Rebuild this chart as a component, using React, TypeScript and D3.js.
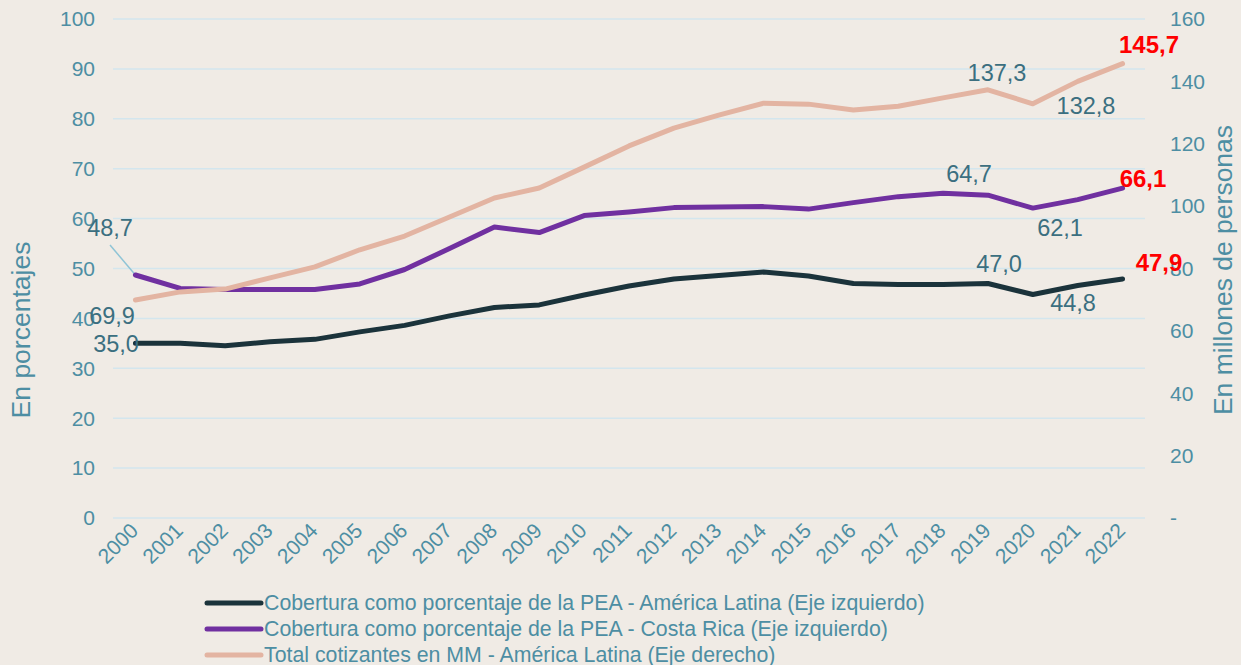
import React from "react";
import * as d3 from "d3";

const years = d3.range(2000, 2023).map(String);
const latam = [35.0, 35.0, 34.5, 35.3, 35.8, 37.3, 38.6, 40.5, 42.2, 42.7, 44.7, 46.5, 47.9, 48.6, 49.3, 48.5, 47.0, 46.8, 46.8, 47.0, 44.8, 46.6, 47.9];
const costaRica = [48.7, 46.0, 45.8, 45.8, 45.8, 46.9, 49.8, 54.0, 58.3, 57.2, 60.6, 61.3, 62.2, 62.3, 62.4, 61.9, 63.2, 64.4, 65.1, 64.7, 62.1, 63.8, 66.1];
const cotizantes = [69.9, 72.5, 73.4, 77.0, 80.5, 86.0, 90.4, 96.5, 102.6, 105.8, 112.5, 119.3, 125.0, 129.2, 133.0, 132.7, 130.8, 132.0, 134.7, 137.3, 132.8, 140.0, 145.7];
const leftTicks = [0, 10, 20, 30, 40, 50, 60, 70, 80, 90, 100];
const rightTicks = [0, 20, 40, 60, 80, 100, 120, 140, 160];
const legendLabels = [
  "Cobertura como porcentaje de la PEA - América Latina (Eje izquierdo)",
  "Cobertura como porcentaje de la PEA - Costa Rica (Eje izquierdo)",
  "Total cotizantes en MM - América Latina (Eje derecho)",
];
const colors = ["#1b333b", "#7030a0", "#e3b4a2"];

const W = 1241;
const H = 665;
const tickColor = "#4d8ea3";
const labelColor = "#3b6f80";
const font = "'Liberation Sans', Arial, sans-serif";

export default function App() {
  const x = d3.scaleBand().domain(years).range([113, 1145]);
  const cx = (i: number) => (x(years[i]) as number) + x.bandwidth() / 2;
  const yL = d3.scaleLinear().domain([0, 100]).range([518, 19]);
  const yR = d3.scaleLinear().domain([0, 160]).range([518, 19]);

  const lineL = d3.line<number>().x((_, i) => cx(i)).y((d) => yL(d));
  const lineR = d3.line<number>().x((_, i) => cx(i)).y((d) => yR(d));

  const series = [
    { d: lineL(latam), c: colors[0] },
    { d: lineL(costaRica), c: colors[1] },
    { d: lineR(cotizantes), c: colors[2] },
  ];

  // annotated values
  const labels = [
    { t: "48,7", x: 110, y: yL(costaRica[0]) - 47 },
    { t: "69,9", x: 112, y: yR(cotizantes[0]) + 16 },
    { t: "35,0", x: 116, y: yL(latam[0]) },
    { t: "137,3", x: 997, y: yR(cotizantes[19]) - 17 },
    { t: "132,8", x: 1086, y: yR(cotizantes[20]) + 2 },
    { t: "64,7", x: 969, y: yL(costaRica[19]) - 21 },
    { t: "62,1", x: 1060, y: yL(costaRica[20]) + 20 },
    { t: "47,0", x: 999, y: yL(latam[19]) - 20 },
    { t: "44,8", x: 1073, y: yL(latam[20]) + 8 },
  ];
  const redLabels = [
    { t: "145,7", x: 1149, y: yR(cotizantes[22]) - 19 },
    { t: "66,1", x: 1143, y: yL(costaRica[22]) - 10 },
    { t: "47,9", x: 1159, y: yL(latam[22]) - 16 },
  ];

  return (
    <svg width={W} height={H} style={{ position: "absolute", left: 0, top: 0, background: "#f0ebe5" }} fontFamily={font}>
      <rect width={W} height={H} fill="#f0ebe5" />
      {leftTicks.map((t) => (
        <g key={t}>
          <line x1={113} x2={1145} y1={yL(t)} y2={yL(t)} stroke="#d3e6ee" strokeWidth={1.5} />
          <text x={95} y={yL(t)} dy="0.35em" textAnchor="end" fontSize={21} fill={tickColor}>{t}</text>
        </g>
      ))}
      {rightTicks.map((t) => (
        <text key={t} x={1170} y={yR(t)} dy="0.35em" fontSize={21} fill={tickColor}>{t === 0 ? "-" : t}</text>
      ))}
      {years.map((yr, i) => (
        <text key={yr} x={cx(i) + 4} y={532} textAnchor="end" fontSize={21} fill={tickColor}
          transform={`rotate(-45, ${cx(i) + 4}, 532)`}>{yr}</text>
      ))}
      <text transform="translate(30,330) rotate(-90)" textAnchor="middle" fontSize={26.5} fill={tickColor}>En porcentajes</text>
      <text transform="translate(1232,270) rotate(-90)" textAnchor="middle" fontSize={26.5} fill={tickColor}>En millones de personas</text>

      <line x1={110} y1={245} x2={cx(0)} y2={yL(costaRica[0])} stroke="#8fc4d6" strokeWidth={1.5} />
      {series.map((s, i) => (
        <path key={i} d={s.d || ""} fill="none" stroke={s.c} strokeWidth={5} strokeLinejoin="round" strokeLinecap="round" />
      ))}

      {labels.map((l) => (
        <text key={l.t} x={l.x} y={l.y} dy="0.35em" textAnchor="middle" fontSize={23.5} fill={labelColor}>{l.t}</text>
      ))}
      {redLabels.map((l) => (
        <text key={l.t} x={l.x} y={l.y} dy="0.35em" textAnchor="middle" fontSize={24} fontWeight="bold" fill="#ff0000">{l.t}</text>
      ))}

      {legendLabels.map((t, i) => (
        <g key={t} transform={`translate(0, ${603 + i * 26})`}>
          <line x1={207} x2={261} y1={0} y2={0} stroke={colors[i]} strokeWidth={5} strokeLinecap="round" />
          <text x={264} y={0} dy="0.35em" fontSize={21.3} fill={tickColor}>{t}</text>
        </g>
      ))}
    </svg>
  );
}
